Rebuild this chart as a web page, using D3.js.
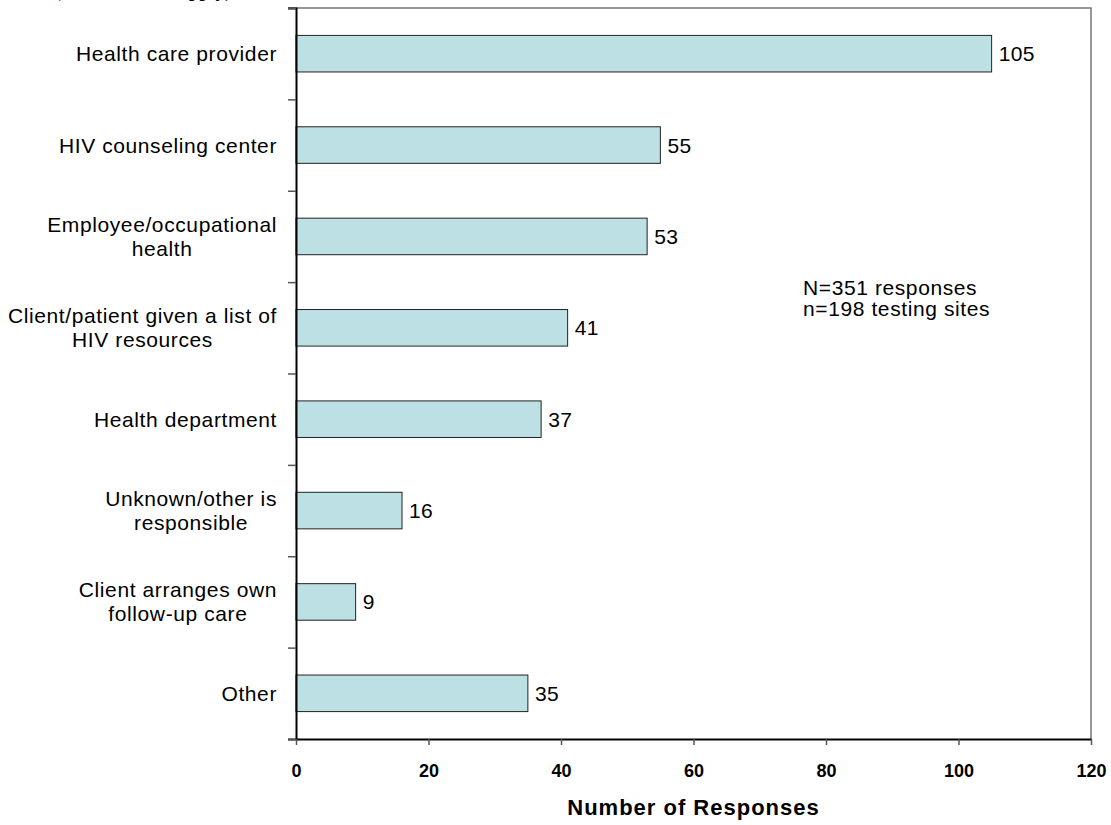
<!DOCTYPE html>
<html>
<head>
<meta charset="utf-8">
<script src="https://cdn.jsdelivr.net/npm/d3@7"></script>
<style>
  body { margin: 0; background: #fff; }
  svg { display: block; }
</style>
</head>
<body>
<svg width="1111" height="825"></svg>
<script>
'use strict';

const categories = [
  "Health care provider",
  "HIV counseling center",
  "Employee/occupational\nhealth",
  "Client/patient given a list of\nHIV resources",
  "Health department",
  "Unknown/other is\nresponsible",
  "Client arranges own\nfollow-up care",
  "Other"
];
const values = [105, 55, 53, 41, 37, 16, 9, 35];
const xTicks = [0, 20, 40, 60, 80, 100, 120];
const notes = ["N=351 responses", "n=198 testing sites"];
const titleText = "(Check all that apply),";

const svg = d3.select("svg");
const plotLeft = 296, plotRight = 1091, plotTop = 8, plotBottom = 739;

const x = d3.scaleLinear().domain([0, 120]).range([plotLeft, plotRight]);
const y = d3.scaleBand()
    .domain(categories)
    .range([plotTop, plotBottom])
    .paddingInner(0.6)
    .paddingOuter(0.3);
// boundaries between categories, for the y ticks
const yEdge = d3.scaleLinear().domain([0, categories.length]).range([plotTop, plotBottom]);

// cut-off title, only its descenders peek out
svg.append("text")
    .attr("x", 236).attr("y", -3)
    .attr("text-anchor", "end")
    .attr("font-family", "Liberation Serif")
    .attr("font-weight", "bold")
    .attr("font-size", 19)
    .text(titleText);

// top and right border of the plot area
svg.append("path")
    .attr("d", `M${plotLeft - 8},${plotTop}H${plotRight}V${plotBottom}`)
    .attr("fill", "none")
    .attr("stroke", "#777")
    .attr("stroke-width", 1.5);

// bars
svg.append("g").selectAll("rect")
  .data(values)
  .join("rect")
    .attr("x", x(0))
    .attr("y", (d, i) => y(categories[i]))
    .attr("width", d => x(d) - x(0))
    .attr("height", y.bandwidth())
    .attr("fill", "#bce0e3")
    .attr("stroke", "#222")
    .attr("stroke-width", 1);

// value labels
svg.append("g").selectAll("text")
  .data(values)
  .join("text")
    .attr("x", d => x(d) + 7)
    .attr("y", (d, i) => y(categories[i]) + y.bandwidth() / 2 + 7.5)
    .attr("font-family", "Liberation Sans")
    .attr("font-size", 21)
    .attr("letter-spacing", 0.4)
    .attr("fill", "#000")
    .text(d => d);

// y axis
const yAxis = svg.append("g")
    .attr("transform", `translate(${plotLeft},0)`)
    .call(d3.axisLeft(yEdge).tickValues(d3.range(categories.length + 1)).tickSize(8).tickFormat(""));
yAxis.select(".domain").attr("stroke", "#000").attr("stroke-width", 2);
yAxis.selectAll(".tick line").attr("stroke", "#555").attr("stroke-width", 1.5);

// x axis
const xAxis = svg.append("g")
    .attr("transform", `translate(0,${plotBottom})`)
    .call(d3.axisBottom(x).tickValues(xTicks).tickSize(6).tickSizeOuter(0));
xAxis.select(".domain").attr("stroke", "#000").attr("stroke-width", 2);
xAxis.selectAll(".tick line").attr("stroke", "#555").attr("stroke-width", 1.5);
xAxis.selectAll(".tick text")
    .attr("font-family", "Liberation Sans")
    .attr("font-weight", "bold")
    .attr("font-size", 18)
    .attr("fill", "#000")
    .attr("dy", "0")
    .attr("y", 38);

// category labels, lines centred on each other, right edge near the axis
const labelRight = 277, lineH = 24;
categories.forEach(c => {
  const lines = c.split("\n");
  const t = svg.append("text")
      .attr("font-family", "Liberation Sans")
      .attr("font-size", 21)
      .attr("letter-spacing", 0.6)
      .attr("text-anchor", "middle")
      .attr("fill", "#000");
  const cy = y(c) + y.bandwidth() / 2;
  const firstBase = cy + 7.5 - (lines.length - 1) * lineH / 2;
  const spans = lines.map((l, i) => t.append("tspan").attr("y", firstBase + i * lineH).text(l));
  const w = d3.max(spans, s => s.node().getComputedTextLength());
  spans.forEach(s => s.attr("x", labelRight - w / 2));
});

// note
svg.append("g").selectAll("text")
  .data(notes)
  .join("text")
    .attr("x", 803)
    .attr("y", (d, i) => 295 + i * 21)
    .attr("font-family", "Liberation Sans")
    .attr("font-size", 21)
    .attr("letter-spacing", 0.6)
    .attr("fill", "#000")
    .text(d => d);

// axis title
svg.append("text")
    .attr("x", (plotLeft + plotRight) / 2)
    .attr("y", 815)
    .attr("text-anchor", "middle")
    .attr("font-family", "Liberation Sans")
    .attr("font-weight", "bold")
    .attr("font-size", 22)
    .attr("letter-spacing", 1)
    .attr("fill", "#000")
    .text("Number of Responses");
</script>
</body>
</html>
